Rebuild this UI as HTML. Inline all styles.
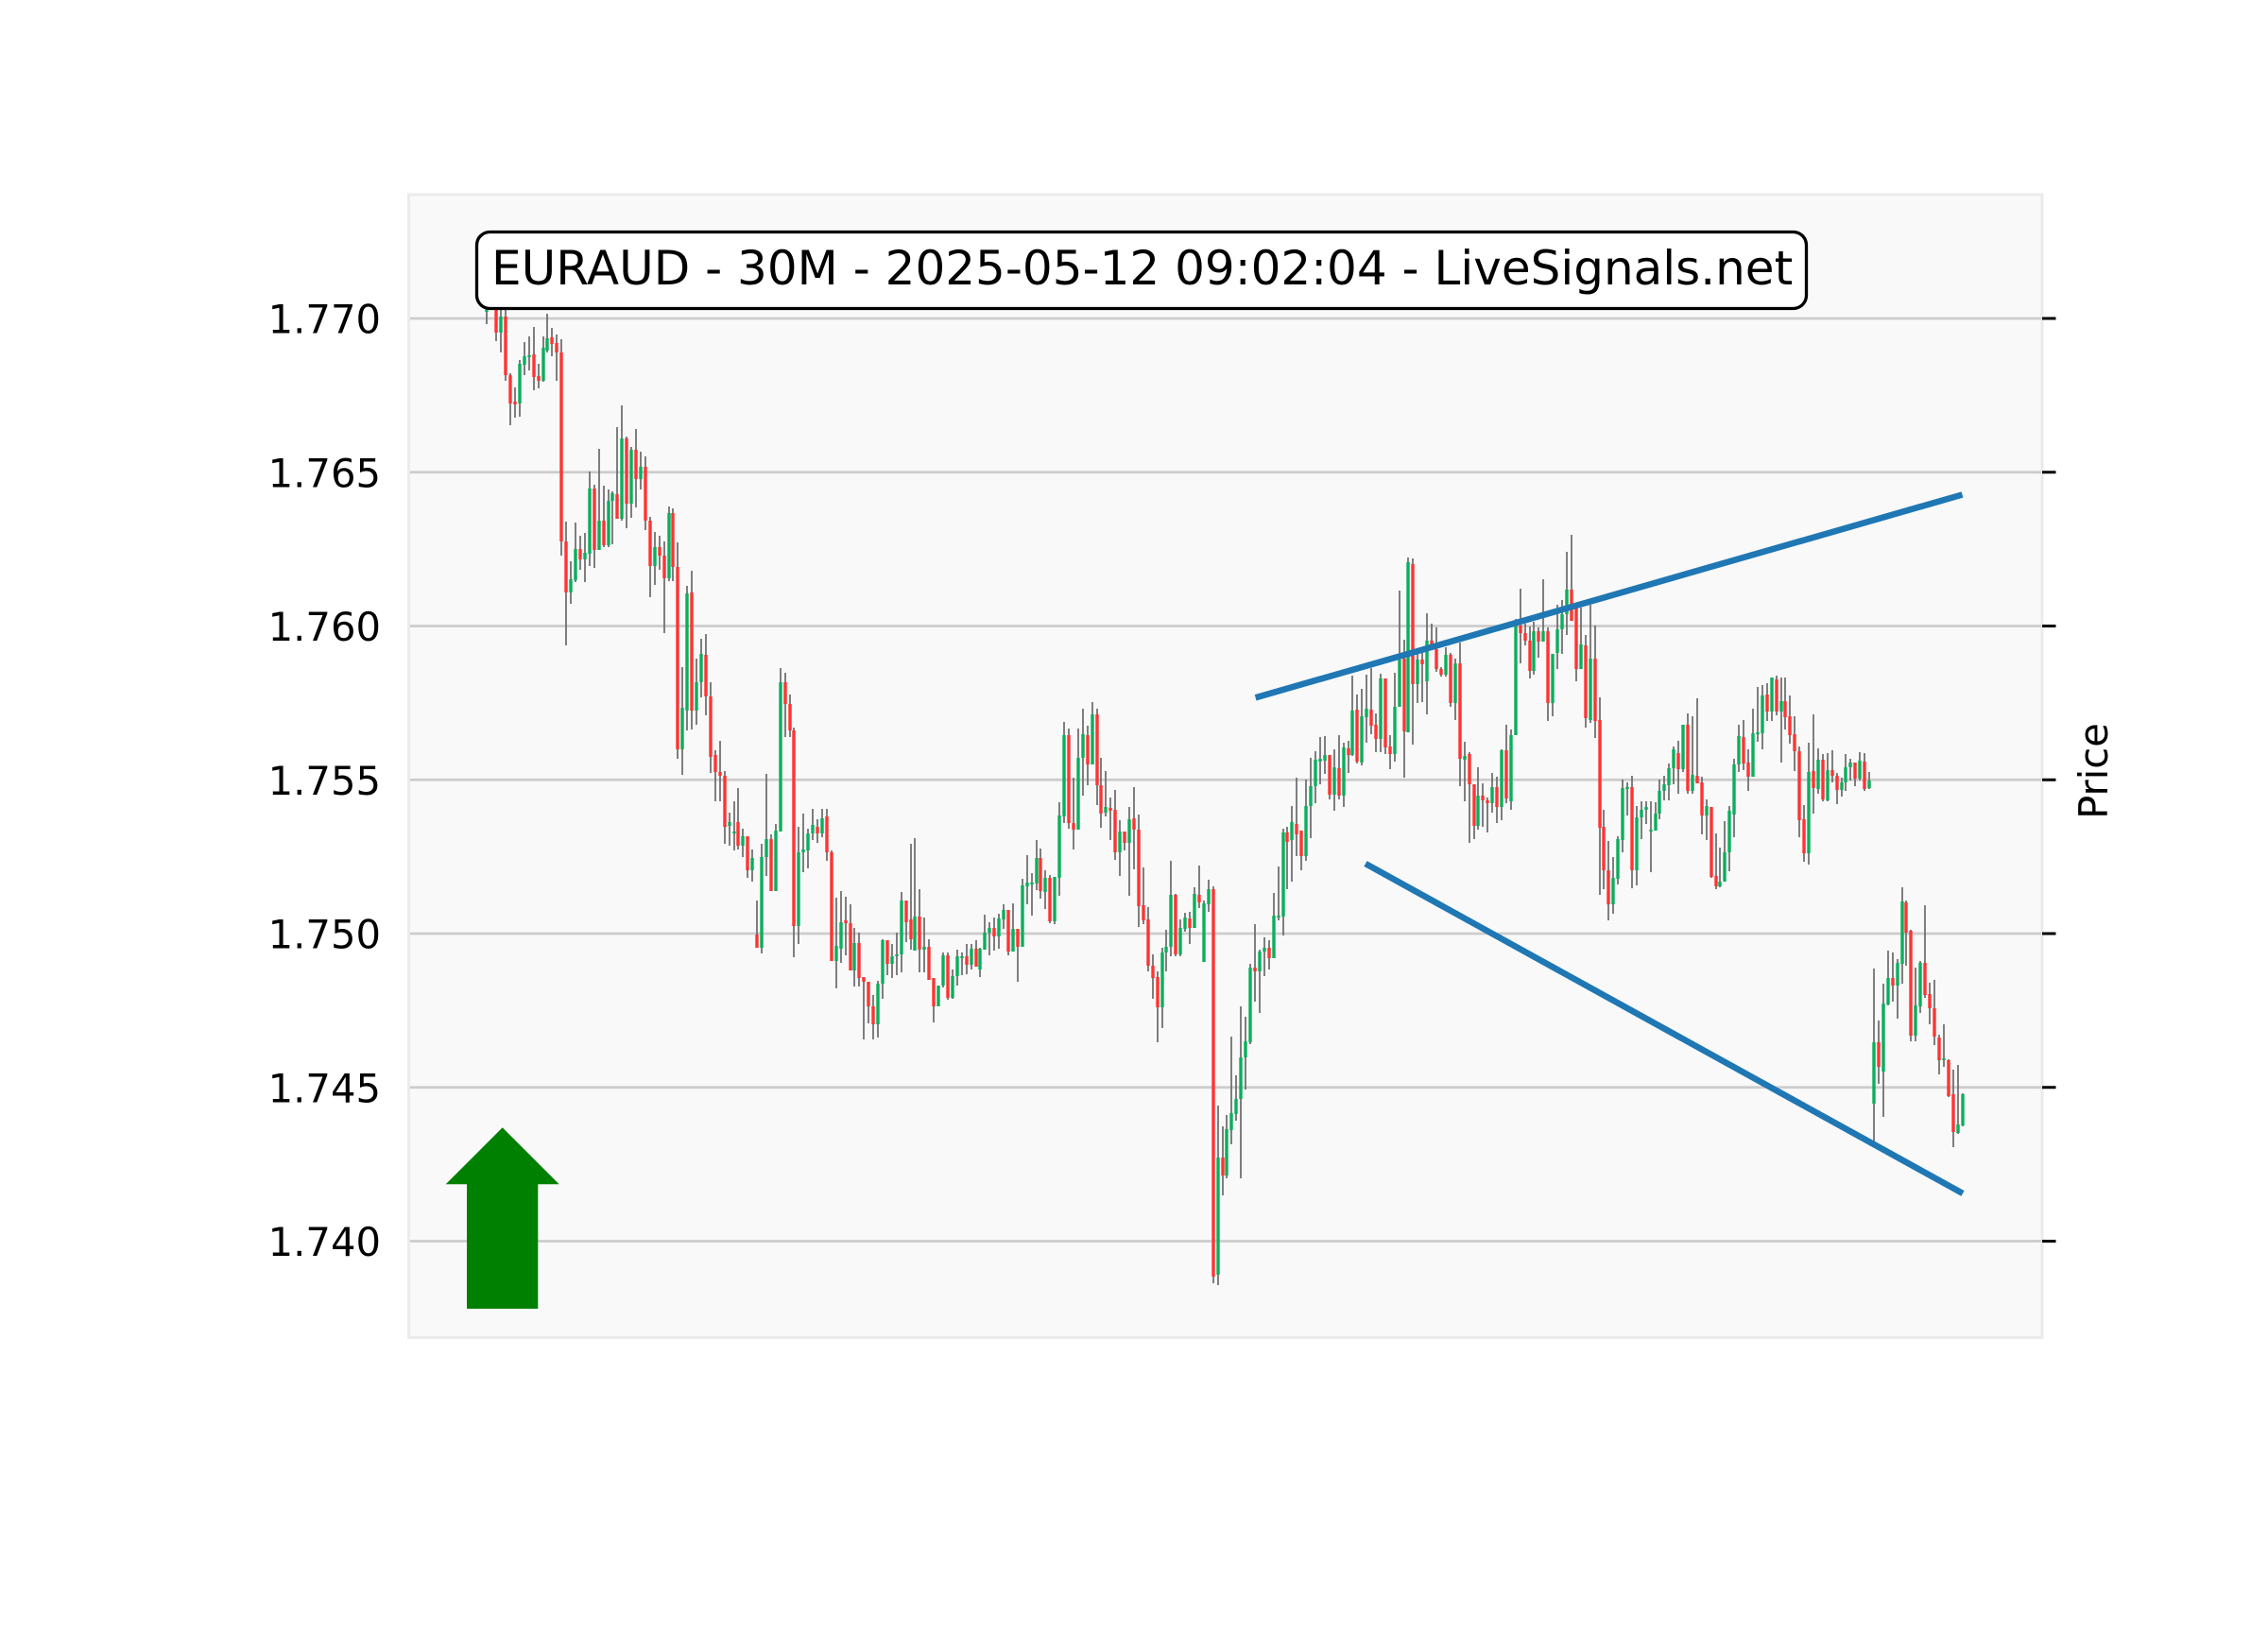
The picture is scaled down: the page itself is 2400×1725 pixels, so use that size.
<!DOCTYPE html>
<html>
<head>
<meta charset="utf-8">
<style>
html,body{margin:0;padding:0;background:#ffffff;}
svg{display:block;}
text{font-family:"DejaVu Sans","Liberation Sans",sans-serif;fill:#000;}
</style>
</head>
<body>
<svg width="2400" height="1725" viewBox="0 0 2400 1725" xmlns="http://www.w3.org/2000/svg">
<rect x="0" y="0" width="2400" height="1725" fill="#ffffff"/>
<!-- axes background -->
<rect x="432.5" y="206" width="1728.5" height="1209.5" fill="#f9f9f9" stroke="#ebebeb" stroke-width="3"/>
<!-- grid -->
<g stroke="#cccccc" stroke-width="2.7">
<line x1="434" y1="337" x2="2160" y2="337"/>
<line x1="434" y1="499.75" x2="2160" y2="499.75"/>
<line x1="434" y1="662.5" x2="2160" y2="662.5"/>
<line x1="434" y1="825.25" x2="2160" y2="825.25"/>
<line x1="434" y1="988" x2="2160" y2="988"/>
<line x1="434" y1="1150.75" x2="2160" y2="1150.75"/>
<line x1="434" y1="1313.5" x2="2160" y2="1313.5"/>
</g>
<!-- right ticks -->
<g stroke="#000" stroke-width="3">
<line x1="2161" y1="337" x2="2175.5" y2="337"/>
<line x1="2161" y1="499.75" x2="2175.5" y2="499.75"/>
<line x1="2161" y1="662.5" x2="2175.5" y2="662.5"/>
<line x1="2161" y1="825.25" x2="2175.5" y2="825.25"/>
<line x1="2161" y1="988" x2="2175.5" y2="988"/>
<line x1="2161" y1="1150.75" x2="2175.5" y2="1150.75"/>
<line x1="2161" y1="1313.5" x2="2175.5" y2="1313.5"/>
</g>
<!-- tick labels -->
<g font-size="41.7" text-anchor="end">
<text x="403" y="352.5">1.770</text>
<text x="403" y="515.25">1.765</text>
<text x="403" y="678">1.760</text>
<text x="403" y="840.75">1.755</text>
<text x="403" y="1003.5">1.750</text>
<text x="403" y="1166.25">1.745</text>
<text x="403" y="1329">1.740</text>
</g>
<text font-size="41.7" text-anchor="middle" transform="translate(2230,816) rotate(-90)">Price</text>

<!-- wicks -->
<path fill="none" stroke="#6a6a6a" stroke-width="1.7" d="M515 310V343M525 318V361M530 327V373M535 328V403M540 395V450M545 410V442M550 381V441M555 362V397M560 356V392M565 346V413M570 385V411M575 356V404M579 332V373M584 347V377M589 354V403M594 359V588M599 552V683M604 594V639M609 553V616M614 567V603M619 564V616M624 499V599M629 513V601M634 475V582M639 514V579M644 518V579M648 520V576M653 452V549M658 429V551M663 462V559M668 473V548M673 454V537M678 478V518M683 483V561M688 547V632M693 563V619M698 567V603M703 573V670M708 536V615M712 538V615M717 574V803M722 706V820M727 620V773M732 604V772M737 697V767M742 676V738M747 671V757M752 722V818M757 794V848M762 784V848M767 816V893M772 860V895M777 848V900M781 834V899M786 877V907M791 885V929M796 899V933M801 953V1003M806 893V1009M811 819V927M816 883V943M821 872V943M826 707V880M831 712V780M836 735V780M840 770V1013M845 875V999M850 861V923M855 877V919M860 856V889M865 867V892M870 856V886M875 856V911M880 900V1017M885 950V1046M890 943V1019M895 949V1011M900 957V1027M904 982V1044M909 987V1044M914 1034V1100M919 1039V1083M924 1053V1100M929 1038V1098M934 994V1057M939 995V1032M944 999V1035M949 987V1032M954 944V1029M959 953V997M964 893V1005M968 887V1006M973 941V1029M978 971V1029M983 994V1037M988 1035V1082M993 1043V1065M998 1008V1045M1003 1008V1058M1008 1026V1057M1013 1005V1043M1018 1008V1032M1023 999V1031M1028 999V1026M1033 995V1023M1037 1003V1034M1042 968V1005M1047 976V1011M1052 971V1006M1057 967V1004M1062 957V983M1067 963V1011M1072 956V1007M1077 983V1039M1082 930V1002M1087 905V957M1092 924V969M1097 889V942M1101 898V951M1106 921V962M1111 926V977M1116 928V978M1121 849V948M1126 764V871M1131 771V877M1136 823V899M1141 771V878M1146 750V842M1151 768V831M1156 743V809M1161 750V852M1165 802V876M1170 816V864M1175 844V889M1180 836V910M1185 868V927M1190 880V900M1195 854V948M1200 833V920M1205 862V981M1210 918V978M1215 960V1028M1220 1010V1057M1225 1028V1103M1230 1003V1088M1234 984V1028M1239 911V1012M1244 946V1012M1249 973V1012M1254 966V986M1259 965V999M1264 939V982M1269 916V961M1274 953V1018M1279 931V965M1284 938V1358M1289 1170V1360M1294 1192V1265M1298 1180V1247M1303 1097V1211M1308 1138V1186M1313 1065V1247M1318 1076V1153M1323 1020V1105M1328 978V1060M1333 1005V1072M1338 992V1033M1343 995V1026M1348 945V1014M1353 917V974M1358 877V990M1362 875V941M1367 853V933M1372 823V906M1377 879V921M1382 825V911M1387 802V887M1392 795V850M1397 780V830M1402 779V819M1407 799V846M1412 793V858M1417 778V846M1422 786V854M1427 784V818M1431 715V800M1436 735V808M1441 729V810M1446 714V786M1451 707V777M1456 755V796M1461 713V796M1466 718V798M1471 778V814M1476 712V806M1481 625V748M1486 677V823M1490 590V775M1495 591V788M1500 688V744M1505 688V743M1510 649V756M1515 660V688M1520 664V711M1525 706V716M1530 685V716M1535 691V748M1540 697V762M1545 680V832M1550 785V848M1555 796V892M1560 830V888M1564 812V878M1569 829V875M1574 844V881M1579 818V860M1584 822V871M1589 793V868M1594 767V850M1599 772V857M1604 655V778M1609 623V702M1614 660V683M1619 663V718M1623 658V714M1628 664V696M1633 613V679M1638 664V763M1643 692V758M1648 640V708M1653 635V692M1658 584V672M1663 566V657M1668 638V721M1673 643V708M1678 672V770M1683 640V765M1688 662V781M1693 738V947M1697 857V941M1702 890V974M1707 907V967M1712 885V936M1717 825V902M1722 828V863M1727 821V940M1732 853V937M1737 848V888M1742 848V872M1747 848V923M1752 849V879M1756 825V867M1761 821V847M1766 808V847M1771 790V830M1776 784V840M1781 767V817M1786 755V840M1791 758V840M1796 739V829M1801 822V883M1806 846V889M1811 854V929M1816 882V941M1820 897V939M1825 869V933M1830 853V922M1835 803V886M1840 767V817M1845 762V815M1850 793V837M1855 750V822M1860 727V785M1865 725V793M1870 723V763M1875 717V763M1880 715V757M1885 717V807M1889 717V772M1894 736V787M1899 758V816M1904 790V886M1909 852V912M1914 786V915M1919 756V861M1924 792V840M1929 798V848M1934 797V848M1939 794V828M1944 818V851M1949 823V843M1953 798V837M1958 803V826M1963 807V832M1968 796V826M1973 797V837M1978 817V835M1983 1025V1208M1988 1080V1147M1993 1041V1182M1998 1006V1064M2003 1008V1060M2008 1015V1078M2013 939V1041M2017 953V1022M2022 984V1102M2027 1024V1102M2032 1017V1072M2037 958V1056M2042 1040V1084M2047 1037V1106M2052 1095V1137M2057 1084V1129M2062 1121V1161M2067 1132V1214M2072 1127V1200M2077 1157V1192"/>

<!-- green bodies -->
<path fill="none" stroke="#0aaf5c" stroke-width="3.4" d="M515 318V330M530 335V352M550 385V427M555 377V386M560 376V378M575 368V403M579 358V371M604 613V627M609 581V614M619 585V592M624 517V586M634 551V582M644 530V577M648 522V530M658 464V549M668 476V533M678 494V507M693 579V599M708 543V612M722 749V793M727 628V752M737 722V752M742 692V722M772 870V874M777 880V882M786 885V895M796 908V921M806 907V1003M811 888V907M821 879V943M826 722V880M845 902V980M850 899V902M855 882V900M860 873V882M870 866V882M885 1001V1017M890 976V1004M904 998V1027M929 1041V1084M934 995V1041M944 1012V1020M949 1010V1012M954 953V1010M968 970V1006M978 1002V1005M993 1043V1065M998 1011V1043M1008 1033V1056M1013 1012V1033M1018 1012V1014M1028 1004V1021M1037 1004V1026M1042 987V1005M1047 982V987M1057 972V991M1062 963V973M1072 983V1007M1082 937V1002M1087 934V938M1092 934V936M1097 908V935M1106 929V944M1116 928V975M1121 863V929M1126 778V864M1141 802V878M1146 777V802M1156 756V809M1170 854V860M1185 880V902M1195 867V892M1230 1008V1066M1234 1002V1008M1239 947V1002M1249 982V1010M1254 971V983M1264 946V982M1274 956V1018M1279 941V957M1289 1225V1349M1298 1195V1244M1303 1178V1196M1308 1163V1179M1313 1119V1163M1318 1102V1119M1323 1024V1103M1333 1007V1028M1338 1003V1007M1348 969V1014M1353 969V971M1358 881V970M1367 870V889M1382 853V906M1387 832V853M1392 804V832M1397 803V806M1402 799V805M1412 812V841M1422 791V842M1431 752V799M1441 758V807M1446 750V759M1461 718V782M1476 748V798M1481 698V748M1490 595V775M1500 698V724M1510 678V721M1530 693V714M1540 702V744M1550 800V804M1564 842V874M1579 833V850M1589 794V854M1599 778V848M1604 662V778M1623 668V710M1633 668V679M1643 692V744M1648 666V691M1653 650V666M1658 624V650M1673 682V708M1683 697V762M1707 929V957M1712 888V930M1717 834V889M1722 833V835M1732 865V921M1737 857V865M1742 854V857M1747 878V880M1752 861V879M1756 837V861M1761 830V837M1766 813V831M1771 793V813M1781 767V814M1791 820V837M1806 853V863M1820 933V938M1825 902V933M1830 858V902M1835 809V862M1840 779V809M1855 776V822M1860 775V777M1865 736V776M1875 717V753M1885 742V753M1914 817V903M1924 804V835M1934 815V847M1949 828V836M1953 812V828M1958 807V812M1968 805V824M1978 826V834M1983 1103V1168M1993 1062V1134M1998 1035V1063M2008 1019V1043M2013 954V1020M2027 1064V1096M2032 1019V1065M2057 1120V1122M2072 1190V1199M2077 1158V1191"/>

<!-- red bodies -->
<path fill="none" stroke="#ff3333" stroke-width="3.4" d="M525 322V352M535 335V397M540 397V427M545 425V428M565 375V399M570 398V403M584 357V364M589 363V373M594 373V573M599 573V627M614 581V592M629 517V582M639 551V577M653 523V549M663 464V533M673 476V507M683 494V551M688 551V599M698 579V588M703 588V612M712 543V600M717 600V793M732 627V752M747 693V737M752 737V801M757 799V817M762 817V821M767 821V875M781 870V895M791 885V921M801 989V1003M816 888V943M831 722V745M836 745V773M840 773V980M865 875V882M875 864V902M880 902V1017M895 974V977M900 977V1027M909 998V1035M914 1034V1039M919 1039V1065M924 1065V1084M939 995V1020M959 953V976M964 973V994M973 970V1005M983 1002V1037M988 1035V1065M1003 1011V1056M1023 1012V1021M1033 1004V1023M1052 982V991M1067 963V1007M1077 983V1002M1101 908V943M1111 929V975M1131 778V871M1136 871V878M1151 778V809M1161 756V831M1165 831V861M1175 855V858M1180 857V902M1190 880V892M1200 866V878M1205 878V959M1210 958V974M1215 973V1022M1220 1022V1035M1225 1034V1066M1244 947V1010M1259 972V982M1269 947V955M1284 941V1351M1294 1225V1244M1328 1024V1028M1343 1003V1014M1362 881V891M1372 872V883M1377 879V906M1407 799V841M1417 813V842M1427 792V799M1436 751V806M1451 751V768M1456 767V782M1466 718V791M1471 790V798M1486 697V774M1495 597V724M1505 698V703M1515 678V687M1520 687V708M1525 708V714M1535 693V744M1545 702V803M1555 798V830M1560 830V874M1569 842V847M1574 847V850M1584 833V854M1594 794V845M1609 662V670M1614 670V678M1619 678V710M1628 668V679M1638 668V744M1663 624V657M1668 640V708M1678 683V760M1688 697V763M1693 762V876M1697 875V921M1702 921V957M1727 833V921M1776 797V814M1786 767V837M1796 821V829M1801 828V863M1811 854V928M1816 927V938M1845 780V808M1850 807V822M1870 735V753M1880 719V753M1889 742V759M1894 758V778M1899 777V795M1904 795V868M1909 867V903M1919 816V834M1929 804V846M1939 815V821M1944 821V836M1963 807V824M1973 806V835M1988 1103V1129M2003 1035V1043M2017 955V987M2022 985V1096M2037 1019V1053M2042 1052V1067M2047 1067V1097M2052 1098V1122M2062 1122V1160M2067 1158V1198"/>

<!-- trend lines -->
<line x1="1328.6" y1="738.3" x2="2076.5" y2="523.5" stroke="#1f77b4" stroke-width="6.6"/>
<line x1="1445" y1="914" x2="2077" y2="1263" stroke="#1f77b4" stroke-width="6.6"/>

<!-- title box -->
<rect x="504.5" y="245.5" width="1407" height="81" rx="14" ry="14" fill="#ffffff" stroke="#000" stroke-width="3.3"/>
<text x="520" y="301" font-size="50">EURAUD - 30M - 2025-05-12 09:02:04 - LiveSignals.net</text>

<!-- arrow -->
<polygon points="531.7,1193.3 591.7,1253.3 569.3,1253.3 569.3,1385 494,1385 494,1253.3 471.7,1253.3" fill="#008000"/>
</svg>
</body>
</html>
